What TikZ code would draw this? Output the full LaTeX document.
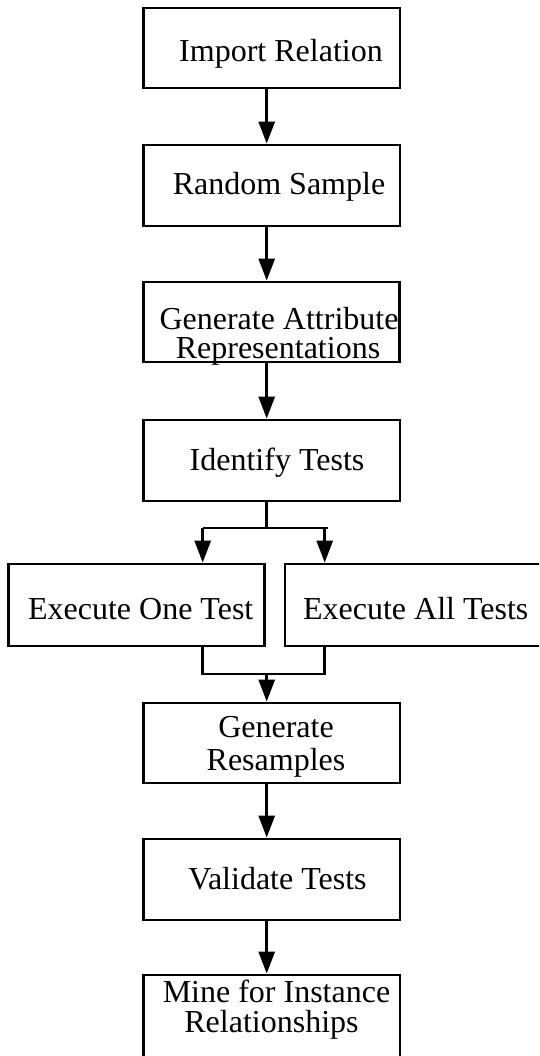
\documentclass[tikz,border=0pt]{standalone}
\usepackage{fontspec}
\setmainfont{Liberation Serif}
\usetikzlibrary{arrows.meta}
\begin{document}
\begin{tikzpicture}[x=1pt,y=-1pt,
  box/.style={draw, line width=2.8pt, rectangle, inner sep=0pt},
  txt/.style={anchor=base, inner sep=0pt, font=\fontsize{32}{36}\selectfont},
  conn/.style={line width=2.8pt},
  arr/.style={line width=2.8pt, -{Triangle[length=22pt,width=16pt]}}]
\clip (0,0) rectangle (539,1056);
% boxes
\node[box, minimum width=256.5pt, minimum height=80pt] (b1) at (271.7,48) {};
\node[box, minimum width=256.5pt, minimum height=81pt] (b2) at (271.7,185.5) {};
\node[box, minimum width=256.5pt, minimum height=80pt] (b3) at (271.5,322) {};
\node[box, minimum width=256.5pt, minimum height=81pt] (b4) at (271.7,460.5) {};
\node[box, minimum width=256pt, minimum height=82pt] (b5) at (136.6,605) {};
\node[box, minimum width=290pt, minimum height=82pt] (b6) at (430,605) {};
\node[box, minimum width=256.5pt, minimum height=80pt] (b7) at (271.7,743) {};
\node[box, minimum width=256.5pt, minimum height=81pt] (b8) at (271.7,879.5) {};
\node[box, minimum width=256.5pt, minimum height=95pt] (b9) at (271.7,1022.5) {};
% texts
\node[txt] (t1) at (281,61.7) {Import Relation};
\node[txt] (t2) at (279,195) {Random Sample};
\node[txt] (t3a) at (279,329.5) {Generate Attribute};
\node[txt] (t3b) at (278,358.5) {Representations};
\node[txt] (t4) at (277,470) {Identify Tests};
\node[txt] (t5) at (140.7,619) {Execute One Test};
\node[txt] (t6) at (415.7,619) {Execute All Tests};
\node[txt] (t7a) at (276,737) {Generate};
\node[txt] (t7b) at (276,770) {Resamples};
\node[txt] (t8) at (277.5,889) {Validate Tests};
\node[txt] (t9a) at (276.5,1002) {Mine for Instance};
\node[txt] (t9b) at (271.5,1032.5) {Relationships};
% connectors
\coordinate (ax) at (266.7,0);
\draw[arr] (b1.south -| ax) -- (b2.north -| ax);
\draw[arr] (b2.south -| ax) -- (b3.north -| ax);
\draw[arr] (b3.south -| ax) -- (b4.north -| ax);
% fork
\coordinate (fk) at (266.7,528);
\coordinate (fl) at (202.7,528);
\coordinate (fr) at (328,528);
\coordinate (fr2) at (324.7,528);
\draw[conn] (b4.south -| ax) -- (fk);
\draw[conn] (fl) -- (fr);
\draw[arr] (fl) -- (fl |- b5.north);
\draw[arr] (fr2) -- (fr2 |- b6.north);
% merge
\coordinate (ml) at (202.7,674);
\coordinate (mr) at (324.7,674);
\coordinate (mc) at (266.7,674);
\draw[conn] (ml |- b5.south) -- (ml) -- (mr) -- (mr |- b6.south);
\draw[arr] (mc) -- (b7.north -| ax);
\draw[arr] (b7.south -| ax) -- (b8.north -| ax);
\draw[arr] (b8.south -| ax) -- (b9.north -| ax);
\end{tikzpicture}
\end{document}
